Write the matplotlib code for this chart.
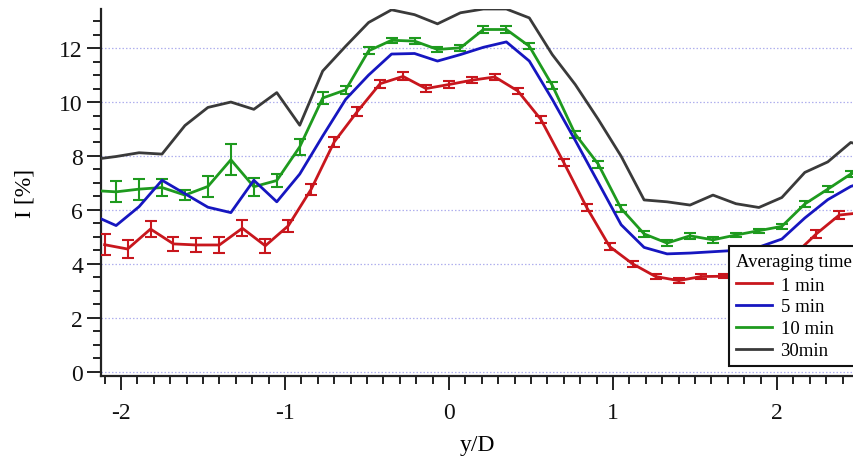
import matplotlib
matplotlib.use("Agg")
import matplotlib.pyplot as plt
from matplotlib.lines import Line2D
from matplotlib.ticker import MultipleLocator
import numpy as np

# ---- data ----
x_1min = [-2.10, -1.96, -1.82, -1.68, -1.54, -1.40, -1.26, -1.12, -0.98, -0.84,
          -0.70, -0.56, -0.42, -0.28, -0.14, 0.00, 0.14, 0.28, 0.42, 0.56,
          0.70, 0.84, 0.98, 1.12, 1.26, 1.40, 1.54, 1.68, 1.82, 1.96,
          2.10, 2.24, 2.38, 2.52]
i_1min = [4.71, 4.55, 5.29, 4.74, 4.70, 4.70, 5.32, 4.67, 5.41, 6.77,
          8.52, 9.64, 10.68, 10.95, 10.50, 10.65, 10.81, 10.93, 10.41, 9.36,
          7.76, 6.09, 4.64, 4.00, 3.53, 3.38, 3.53, 3.54, 3.60, 3.90,
          4.30, 5.11, 5.81, 5.90]
e_1min = [0.39, 0.33, 0.30, 0.27, 0.27, 0.31, 0.30, 0.27, 0.23, 0.20,
          0.19, 0.17, 0.15, 0.15, 0.12, 0.12, 0.11, 0.12, 0.11, 0.13,
          0.13, 0.12, 0.12, 0.10, 0.09, 0.09, 0.08, 0.08, 0.10, 0.10,
          0.12, 0.15, 0.14, 0.14]

x_long = [-2.17, -2.03, -1.89, -1.75, -1.61, -1.47, -1.33, -1.19, -1.05, -0.91,
          -0.77, -0.63, -0.49, -0.35, -0.21, -0.07, 0.07, 0.21, 0.35, 0.49,
          0.63, 0.77, 0.91, 1.05, 1.19, 1.33, 1.47, 1.61, 1.75, 1.89,
          2.03, 2.17, 2.31, 2.45, 2.59]
i_5min = [5.80, 5.42, 6.12, 7.10, 6.60, 6.10, 5.90, 7.10, 6.30, 7.33,
          8.74, 10.10, 11.00, 11.78, 11.80, 11.52, 11.76, 12.03, 12.23, 11.52,
          10.10, 8.58, 7.02, 5.45, 4.61, 4.37, 4.40, 4.45, 4.50, 4.62,
          4.92, 5.70, 6.38, 6.87, 7.15]
i_10min = [6.72, 6.67, 6.77, 6.83, 6.55, 6.87, 7.86, 6.86, 7.09, 8.34,
           10.15, 10.45, 11.90, 12.29, 12.26, 11.95, 12.01, 12.69, 12.69, 12.07,
           10.62, 8.81, 7.70, 6.05, 5.11, 4.77, 5.04, 4.89, 5.07, 5.23,
           5.39, 6.22, 6.77, 7.33, 7.60]
e_10min = [0.35, 0.39, 0.39, 0.30, 0.20, 0.39, 0.57, 0.33, 0.25, 0.29,
           0.23, 0.15, 0.13, 0.10, 0.10, 0.10, 0.10, 0.13, 0.12, 0.12,
           0.13, 0.13, 0.13, 0.12, 0.10, 0.11, 0.10, 0.10, 0.08, 0.08,
           0.08, 0.10, 0.10, 0.10, 0.10]
i_30min = [7.87, 7.98, 8.12, 8.07, 9.13, 9.80, 10.00, 9.73, 10.35, 9.14,
           11.15, 12.07, 12.95, 13.42, 13.24, 12.90, 13.31, 13.45, 13.45, 13.12,
           11.76, 10.65, 9.36, 7.99, 6.37, 6.30, 6.18, 6.55, 6.23, 6.09,
           6.46, 7.39, 7.78, 8.50, 8.30]

labels = ["1 min", "5 min", "10 min", "30min"]
colors = ["#c8161d", "#1616c0", "#1e9a1e", "#3a3a3a"]

plt.rcParams["font.family"] = ["Liberation Serif", "DejaVu Serif"]
plt.rcParams["axes.unicode_minus"] = False

fig = plt.figure(figsize=(8.54, 4.64), dpi=100)
ax = fig.add_axes([101 / 854, 1 - 376.5 / 464, 1 - 101 / 854, (376.5 - 10) / 464])

lw = 2.0
ax.plot(x_long, i_30min, color=colors[3], lw=lw, zorder=3)
ax.plot(x_long, i_10min, color=colors[2], lw=lw, zorder=3)
ax.errorbar(x_long, i_10min, yerr=e_10min, fmt="none", ecolor=colors[2],
            elinewidth=1.5, capsize=4.5, capthick=1.5, zorder=3)
ax.plot(x_long, i_5min, color=colors[1], lw=lw, zorder=3)
ax.plot(x_1min, i_1min, color=colors[0], lw=lw, zorder=3)
ax.errorbar(x_1min, i_1min, yerr=e_1min, fmt="none", ecolor=colors[0],
            elinewidth=1.5, capsize=4.5, capthick=1.5, zorder=3)

ax.set_xlim(-2.122, 2.47)
ax.set_ylim(-0.14, 13.45)

ax.yaxis.set_major_locator(MultipleLocator(2))
ax.yaxis.set_minor_locator(MultipleLocator(0.5))
ax.xaxis.set_major_locator(MultipleLocator(1))
ax.xaxis.set_minor_locator(MultipleLocator(0.1))

for yv in range(0, 13, 2):
    ax.axhline(yv, color="#b0b0ee", lw=0.9, ls=(0, (1.2, 1.6)), zorder=1)

for side in ["top", "right"]:
    ax.spines[side].set_visible(False)
for side in ["left", "bottom"]:
    ax.spines[side].set_linewidth(1.6)
    ax.spines[side].set_color("#222222")

ax.tick_params(axis="both", which="major", length=10, width=1.4, colors="#222222",
               labelsize=17, labelcolor="#111111", direction="out")
ax.tick_params(axis="both", which="minor", length=5.5, width=1.4, colors="#222222",
               direction="out")
ax.tick_params(axis="x", which="major", pad=9)
ax.tick_params(axis="y", which="major", pad=3)

ax.set_xlabel("y/D", fontsize=17, labelpad=8)
ax.set_ylabel("I [%]", fontsize=17, labelpad=17)

handles = [Line2D([0], [0], color=c, lw=lw) for c in colors]
leg = ax.legend(handles, labels, title="Averaging time", loc="upper left",
                bbox_to_anchor=(729 / 854, 1 - 247 / 464), bbox_transform=fig.transFigure,
                fontsize=13.5, title_fontsize=13.5, frameon=True, fancybox=False,
                framealpha=1, edgecolor="#111111", borderpad=0.35, labelspacing=0.25,
                handlelength=1.95, handletextpad=0.45, borderaxespad=0)
leg._legend_box.align = "left"
leg._legend_box.sep = 5
leg.get_frame().set_linewidth(1.5)
leg.set_zorder(10)

fig.savefig("out.png", dpi=100)
